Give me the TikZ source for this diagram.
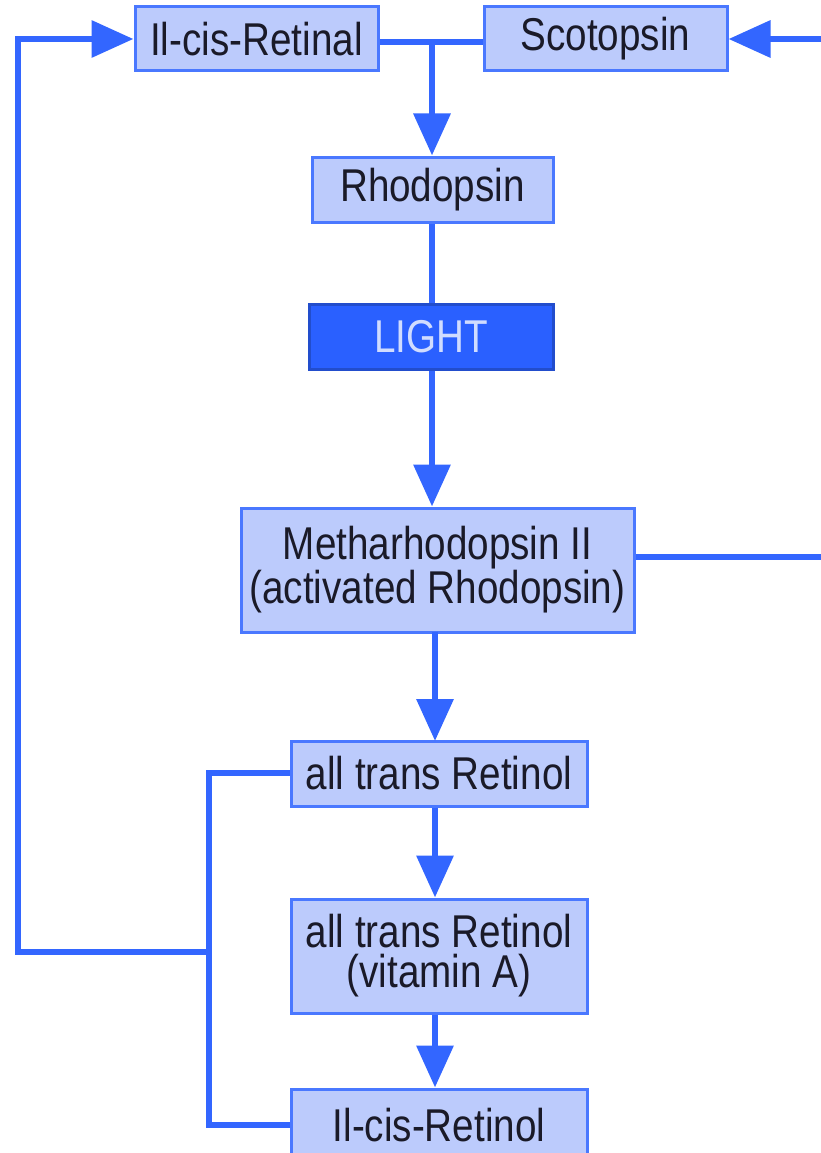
\documentclass[tikz,border=0pt]{standalone}
\usepackage{fontspec}
\setmainfont{Liberation Sans}[FakeStretch=0.84]
\usetikzlibrary{arrows.meta,calc}
\definecolor{boxfill}{HTML}{BCCBFC}
\definecolor{boxline}{HTML}{4A78FF}
\definecolor{conn}{HTML}{3366FF}
\definecolor{lightfill}{HTML}{2A60FF}
\definecolor{lighttext}{HTML}{D0DCFF}
\definecolor{txt}{HTML}{1A1A28}
\begin{document}
\begin{tikzpicture}[x=1pt,y=-1pt,
  pbox/.style={draw=boxline,fill=boxfill,line width=3pt,inner sep=0pt,align=center,
    font=\fontsize{46}{40}\selectfont,text=txt},
  lbox/.style={draw=lightfill!80!black,fill=lightfill,line width=3pt,inner sep=0pt,align=center,
    font=\fontsize{46}{40}\selectfont,text=lighttext},
  conline/.style={draw=conn,line width=6.5pt},
  conarrow/.style={conline,-{Triangle[width=36pt,length=42pt]}}]
\useasboundingbox (0,0) rectangle (821,1153);
% nodes
\node[pbox,minimum width=243pt,minimum height=64pt] (retinal) at (256.5,39) {Il-cis-Retinal};
\node[pbox,minimum width=243pt,minimum height=64pt] (scot) at (605.5,39) {Scotopsin};
\node[pbox,minimum width=241pt,minimum height=65pt] (rhod) at (432.5,189.5) {Rhodopsin};
\node[lbox,minimum width=244pt,minimum height=65pt] (light) at (431,336.5) {LIGHT};
\node[pbox,minimum width=393pt,minimum height=124pt] (meth) at (437.5,570) {Metharhodopsin II\\(activated Rhodopsin)};
\node[pbox,minimum width=296pt,minimum height=65pt] (atr) at (439,773.5) {all trans Retinol};
\node[pbox,minimum width=296pt,minimum height=114pt] (vita) at (439,956) {all trans Retinol\\(vitamin A)};
\node[pbox,minimum width=296pt,minimum height=72pt,text depth=0pt] (cisol) at (439,1125) {Il-cis-Retinol};
% coordinates
\coordinate (j1) at (432,42);
\coordinate (rin) at (821,39);
\coordinate (rout) at (821,557);
\coordinate (bx) at (209,773);
\coordinate (bm) at (209,952);
\coordinate (bb) at (209,1125);
\coordinate (lx) at (18,952);
\coordinate (lt) at (18,39);
% connectors
\draw[conline] (retinal.east |- j1) -- (scot.west |- j1);
\draw[conarrow] (j1) -- (j1 |- rhod.north);
\draw[conarrow] (rin) -- (scot.east);
\draw[conline] (rhod.south -| j1) -- (light.north -| j1);
\draw[conarrow] (light.south -| j1) -- (meth.north -| j1);
\draw[conline] (meth.east |- rout) -- (rout);
\draw[conarrow] (435,632) -- (435,741);
\draw[conarrow] (atr.south -| 435,0) -- (vita.north -| 435,0);
\draw[conarrow] (vita.south -| 435,0) -- (cisol.north -| 435,0);
\draw[conline] (atr.west |- bx) -- (bx) -- (bb) -- (cisol.west |- bb);
\draw[conline] (bm) -- (lx) -- (lt) -- ++(10,0);
\draw[conarrow] (lt) -- (retinal.west);
\end{tikzpicture}
\end{document}
